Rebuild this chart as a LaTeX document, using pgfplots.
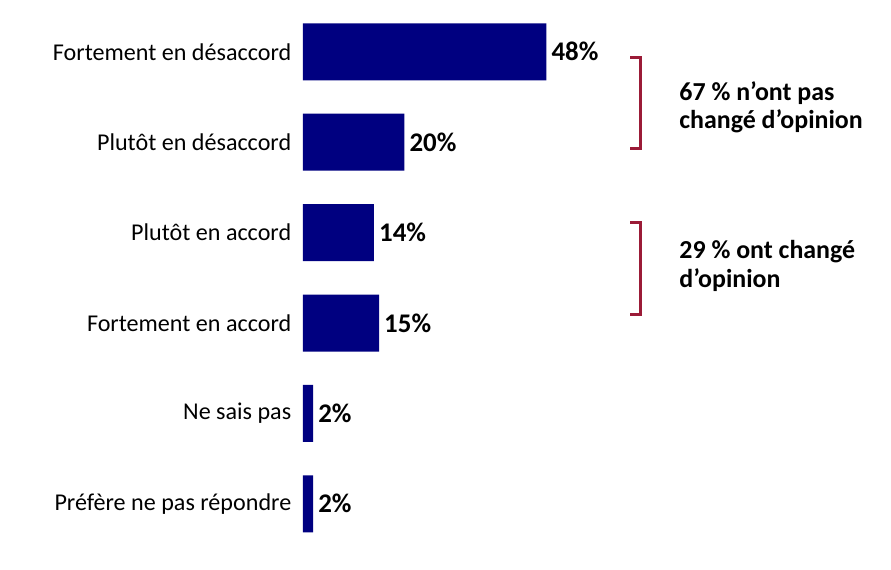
\documentclass[border=0pt]{standalone}
\usepackage{fontspec}
\setmainfont{Carlito}
\usepackage{pgfplots}
\pgfplotsset{compat=1.18}
\definecolor{barblue}{RGB}{0,0,128}
\definecolor{brk}{RGB}{155,27,55}
\begin{document}
\begin{tikzpicture}
\useasboundingbox (-303bp,-21bp) rectangle (588bp,549bp);
\begin{axis}[
  at={(0,0)}, anchor=south west,
  scale only axis, width=507bp, height=542.4bp,
  xbar, xmin=0, xmax=100,
  ymin=-0.5, ymax=5.5, y dir=reverse,
  axis line style={draw=none}, tick style={draw=none},
  xtick=\empty,
  ytick={0,1,2,3,4,5},
  yticklabels={Fortement en désaccord, Plutôt en désaccord, Plutôt en accord, Fortement en accord, Ne sais pas, Préfère ne pas répondre},
  yticklabel style={font=\fontsize{24.2}{28}\selectfont, xshift=-4bp},
  bar width=57bp,
  clip=false,
  point meta=x,
  /pgf/number format/assume math mode=true,
  nodes near coords={\pgfmathprintnumber{\pgfplotspointmeta}\%},
  nodes near coords style={font=\bfseries\fontsize{27}{30}\selectfont, anchor=west, inner sep=0pt, xshift=5bp, text=black},
]
\addplot[fill=barblue, draw=none] coordinates {(48,0) (20,1) (14,2) (15,3) (2,4) (2,5)};
\draw[brk, line width=3bp] (axis cs:64.5,0.066) -- (axis cs:66.6,0.066) -- (axis cs:66.6,1.07) -- (axis cs:64.5,1.07);
\draw[brk, line width=3bp] (axis cs:64.5,1.89) -- (axis cs:66.6,1.89) -- (axis cs:66.6,2.91) -- (axis cs:64.5,2.91);
\node[anchor=west, align=left, inner sep=0pt, font=\bfseries\fontsize{26}{29}\selectfont] at (axis cs:74.2,0.614) {67 \% n’ont pas\\changé d’opinion};
\node[anchor=west, align=left, inner sep=0pt, font=\bfseries\fontsize{26}{29}\selectfont] at (axis cs:74.2,2.367) {29 \% ont changé\\d’opinion};
\end{axis}
\end{tikzpicture}
\end{document}
